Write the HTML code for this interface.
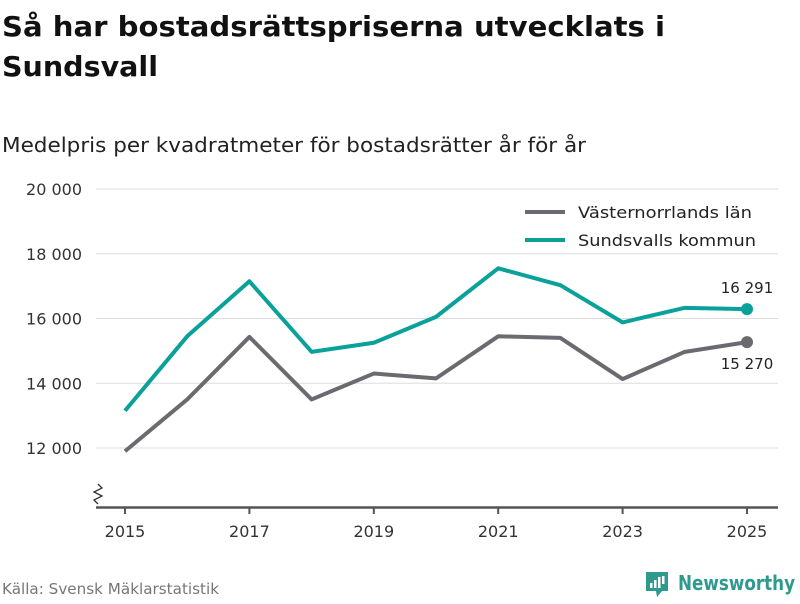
<!DOCTYPE html>
<html><head><meta charset="utf-8"><style>
body{margin:0;width:800px;height:600px;background:#fff;font-family:"DejaVu Sans","Liberation Sans",sans-serif;overflow:hidden}
</style></head><body>
<svg width="800" height="600" xmlns="http://www.w3.org/2000/svg" font-family="DejaVu Sans, Liberation Sans, sans-serif">
<text x="2" y="36" font-size="28" font-weight="bold" fill="#111" textLength="663" lengthAdjust="spacingAndGlyphs">Så har bostadsrättspriserna utvecklats i</text>
<text x="2" y="76" font-size="28" font-weight="bold" fill="#111" textLength="156" lengthAdjust="spacingAndGlyphs">Sundsvall</text>
<text x="2" y="152" font-size="20" fill="#222" textLength="584" lengthAdjust="spacingAndGlyphs">Medelpris per kvadratmeter för bostadsrätter år för år</text>
<g id="grid"></g>
<g id="xaxis"></g>
<path d="M98 504 L94 500 L102 496 L94 492 L102 488 L98 484" fill="none" stroke="#333" stroke-width="1.3"/>
<line x1="96" y1="507.5" x2="778" y2="507.5" stroke="#555" stroke-width="2.5"/>
<g id="series"></g>
<g>
<line x1="525" y1="212" x2="565" y2="212" stroke="#6b6a70" stroke-width="4"/>
<text x="578" y="218" font-size="16" fill="#222" textLength="174" lengthAdjust="spacingAndGlyphs">Västernorrlands län</text>
<line x1="525" y1="240" x2="565" y2="240" stroke="#0aa19a" stroke-width="4"/>
<text x="578" y="246" font-size="16" fill="#222" textLength="178" lengthAdjust="spacingAndGlyphs">Sundsvalls kommun</text>
</g>
<text x="2" y="594" font-size="15" fill="#777" textLength="217" lengthAdjust="spacingAndGlyphs">Källa: Svensk Mäklarstatistik</text>
<g>
<path d="M646 572 h22 v19 h-6 l-5 6 l-1 -6 h-10 z" fill="#2e9a8e"/>
<rect x="650" y="583" width="2.5" height="5" fill="#fff"/><rect x="654" y="580" width="2.5" height="8" fill="#fff"/><rect x="658" y="577" width="2.5" height="11" fill="#fff"/><rect x="662" y="576" width="2.5" height="8" fill="#fff"/>
<text x="678" y="590" font-size="20" font-weight="bold" fill="#2e9a8e" textLength="117" lengthAdjust="spacingAndGlyphs">Newsworthy</text>
</g>
</svg>
<script>
const years=[2015,2016,2017,2018,2019,2020,2021,2022,2023,2024,2025];
const vasternorrland=[11900,13500,15430,13500,14300,14150,15450,15400,14130,14970,15270];
const sundsvall=[13150,15450,17150,14970,15250,16050,17550,17030,15880,16330,16291];
const yTicks=[12000,14000,16000,18000,20000];
const yTickLabels=["12 000","14 000","16 000","18 000","20 000"];
const xTicks=[2015,2017,2019,2021,2023,2025];
const NS="http://www.w3.org/2000/svg";
function x(v){return 125+(v-2015)*62.2;}
function y(v){return 448-(v-12000)*(259/8000);}
function mk(t,a,p){const e=document.createElementNS(NS,t);for(const k in a)e.setAttribute(k,a[k]);p.appendChild(e);return e;}
const grid=document.getElementById('grid');
yTicks.forEach((t,i)=>{
 const l=mk('line',{x1:96,x2:778,y1:y(t),y2:y(t),stroke:'#ddd','stroke-width':1},grid);
 
 
 const tx=mk('text',{x:82,y:y(t)+6,'font-size':16,fill:'#333','text-anchor':'end'},grid);
 tx.textContent=yTickLabels[i];
 
 
});
const xa=document.getElementById('xaxis');
xTicks.forEach(t=>{
 const l=mk('line',{x1:x(t),x2:x(t),y1:507,y2:514,stroke:'#555','stroke-width':2},xa);
 
 
 const tx=mk('text',{x:x(t),y:537,'font-size':16,fill:'#333','text-anchor':'middle'},xa);
 tx.textContent=t;
 
 
});
const sg=document.getElementById('series');
function draw(vals,color,name,labDy){
 const p=mk('polyline',{points:vals.map((v,i)=>x(years[i])+','+y(v)).join(' '),fill:'none',stroke:color,'stroke-width':4,'stroke-linejoin':'round'},sg);
 
 
 const n=vals.length-1;
 const c=mk('circle',{cx:x(years[n]),cy:y(vals[n]),r:6,fill:color},sg);
 
 
 const t=mk('text',{x:x(years[n]),y:y(vals[n])+labDy,'font-size':15,fill:'#222','text-anchor':'middle'},sg);
 t.textContent=String(vals[n]).replace(/\B(?=(\d{3})+(?!\d))/g,' ');
 
 
}
draw(vasternorrland,'#6b6a70','vasternorrland',27);
draw(sundsvall,'#0aa19a','sundsvall',-16);
</script>
</body></html>
